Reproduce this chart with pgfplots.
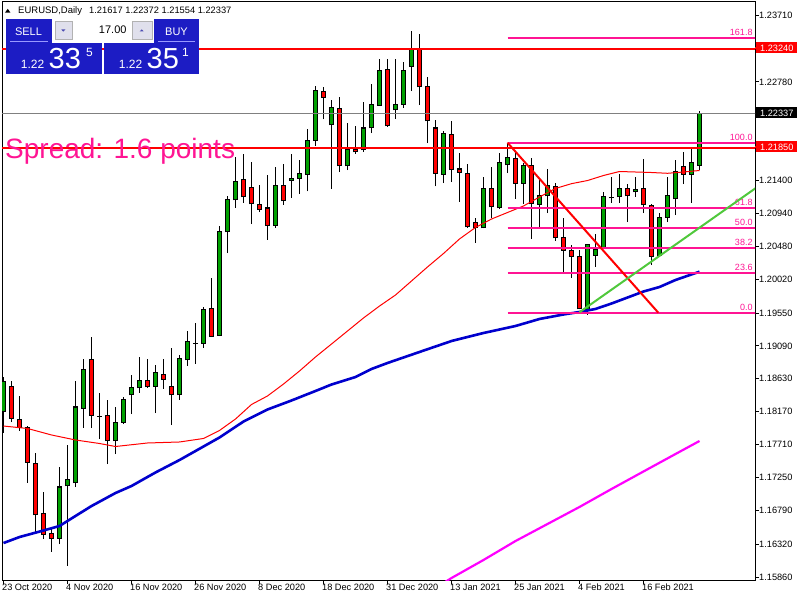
\documentclass[border=0pt]{standalone}
\usepackage{pgfplots}
\pgfplotsset{compat=1.18}
\usepackage{pgfplotstable}
\usepackage{fontspec}
\setmainfont{Liberation Sans}
\definecolor{bullg}{RGB}{0,160,0}
\definecolor{bearr}{RGB}{255,0,0}
\definecolor{fibpink}{RGB}{255,20,147}
\definecolor{mablue}{RGB}{0,0,205}
\definecolor{mamag}{RGB}{255,0,255}
\definecolor{trendg}{RGB}{80,200,60}
\definecolor{panelblue}{RGB}{28,28,196}
\definecolor{panelbtn}{RGB}{224,224,236}

\pgfplotstableread{
i o h l c
0 1.18180 1.18651 1.17873 1.18590
1 1.18516 1.18599 1.18026 1.18082
2 1.18068 1.18390 1.17901 1.17943
3 1.17943 1.17970 1.17174 1.17467
4 1.17453 1.17593 1.16489 1.16727
5 1.16741 1.17048 1.16391 1.16461
6 1.16475 1.16545 1.16210 1.16405
7 1.16405 1.17398 1.16321 1.17118
8 1.17132 1.17705 1.16014 1.17216
9 1.17174 1.18599 1.17118 1.18236
10 1.18222 1.18907 1.17943 1.18767
11 1.18893 1.19214 1.17943 1.18124
12 1.18110 1.18432 1.17789 1.18110
13 1.18124 1.18334 1.17439 1.17761
14 1.17761 1.18236 1.17579 1.18026
15 1.18026 1.18376 1.17998 1.18334
16 1.18404 1.18683 1.18138 1.18502
17 1.18502 1.18935 1.18432 1.18613
18 1.18613 1.18907 1.18502 1.18516
19 1.18529 1.18823 1.18152 1.18725
20 1.18697 1.18907 1.18488 1.18627
21 1.18516 1.19061 1.17984 1.18404
22 1.18404 1.18963 1.18334 1.18907
23 1.18893 1.19298 1.18809 1.19158
24 1.19130 1.19410 1.18837 1.19130
25 1.19130 1.19634 1.19061 1.19592
26 1.19606 1.20039 1.19214 1.19228
27 1.19242 1.20765 1.19228 1.20682
28 1.20682 1.21185 1.20388 1.21129
29 1.21129 1.21730 1.21017 1.21394
30 1.21422 1.21772 1.21087 1.21171
31 1.21297 1.21660 1.20793 1.21073
32 1.21059 1.21338 1.20961 1.21003
33 1.21017 1.21478 1.20570 1.20779
34 1.20779 1.21590 1.20738 1.21338
35 1.21338 1.21632 1.21059 1.21115
36 1.21408 1.21772 1.21157 1.21436
37 1.21436 1.21688 1.21213 1.21506
38 1.21492 1.22121 1.21248 1.21967
39 1.21967 1.22722 1.21890 1.22659
40 1.22652 1.22701 1.22254 1.22568
41 1.22177 1.22526 1.21287 1.22415
42 1.22401 1.22568 1.21520 1.21604
43 1.21604 1.22205 1.21548 1.21828
44 1.21828 1.22163 1.21772 1.21800
45 1.21828 1.22498 1.21800 1.22135
46 1.22135 1.22750 1.22065 1.22470
47 1.22456 1.23099 1.22449 1.22932
48 1.22946 1.23099 1.22149 1.22163
49 1.22387 1.23099 1.22261 1.22470
50 1.22470 1.23057 1.22415 1.22932
51 1.23001 1.23491 1.22652 1.23239
52 1.23239 1.23449 1.22456 1.22708
53 1.22708 1.22848 1.21925 1.22233
54 1.22135 1.22247 1.21318 1.21506
55 1.21492 1.22093 1.21366 1.22065
56 1.22051 1.22233 1.21380 1.21562
57 1.21562 1.21786 1.21101 1.21520
58 1.21506 1.21632 1.20738 1.20752
59 1.20821 1.20877 1.20528 1.20738
60 1.20738 1.21450 1.20731 1.21283
61 1.21283 1.21590 1.20877 1.21031
62 1.21017 1.21786 1.21003 1.21646
63 1.21618 1.21911 1.21506 1.21716
64 1.21702 1.21786 1.21143 1.21366
65 1.21366 1.21646 1.21073 1.21604
66 1.21604 1.21716 1.20584 1.21073
67 1.21066 1.21408 1.20752 1.21192
68 1.21185 1.21562 1.20947 1.21338
69 1.21311 1.21366 1.20556 1.20598
70 1.20598 1.20877 1.20123 1.20430
71 1.20430 1.20500 1.20039 1.20346
72 1.20346 1.20430 1.19599 1.19606
73 1.19592 1.20500 1.19522 1.20500
74 1.20360 1.20654 1.20193 1.20444
75 1.20458 1.21241 1.20451 1.21171
76 1.21157 1.21450 1.21087 1.21157
77 1.21171 1.21492 1.21087 1.21283
78 1.21283 1.21352 1.20821 1.21185
79 1.21241 1.21450 1.21171 1.21269
80 1.21283 1.21702 1.20947 1.21059
81 1.21045 1.21073 1.20220 1.20346
82 1.20360 1.20947 1.20353 1.20891
83 1.20891 1.21450 1.20821 1.21185
84 1.21143 1.21688 1.20919 1.21534
85 1.21590 1.21800 1.21352 1.21492
86 1.21492 1.21869 1.21087 1.21646
87 1.21617 1.22372 1.21554 1.22337
}\candles

\pgfplotstableread{
i v
0 1.17970
3 1.17936
6 1.17845
9 1.17775
12 1.17726
14 1.17684
18 1.17733
22 1.17747
25 1.17796
27 1.17908
29 1.18068
31 1.18271
33 1.18390
35 1.18557
37 1.18739
39 1.18935
41 1.19116
43 1.19298
45 1.19480
47 1.19647
49 1.19801
51 1.19997
53 1.20193
55 1.20381
57 1.20584
59 1.20745
61 1.20863
63 1.20954
65 1.21045
67 1.21171
69 1.21290
71 1.21357
73 1.21401
75 1.21471
77 1.21527
79 1.21520
81 1.21513
83 1.21502
85 1.21520
87 1.21541
}\maRed

\pgfplotstableread{
i v
0 1.16335
2 1.16419
5 1.16510
7 1.16573
9 1.16713
11 1.16852
14 1.17034
16 1.17132
19 1.17321
22 1.17495
25 1.17684
27 1.17810
30 1.18033
33 1.18201
36 1.18327
39 1.18460
41 1.18550
44 1.18655
46 1.18767
48 1.18851
52 1.19005
56 1.19158
60 1.19270
64 1.19368
67 1.19466
70 1.19529
72 1.19564
74 1.19606
76 1.19682
78 1.19766
80 1.19850
82 1.19913
84 1.20011
87 1.20127
}\maBlue

\pgfplotstableread{
i v
55 1.15776
56 1.15846
60 1.16098
64 1.16363
68 1.16601
72 1.16839
76 1.17090
80 1.17335
84 1.17579
87 1.17761
}\maMag

\begin{document}
\begin{tikzpicture}[x=1pt,y=1pt]
\begin{axis}[
  at={(2,20)}, anchor=south west, scale only axis,
  width=753pt, height=578pt,
  xmin=-0.1875, xmax=93.9375,
  ymin=1.158183, ymax=1.238959,
  axis line style={black, line width=1pt},
  tick style={black, line width=0.8pt},
  tick align=outside,
  major tick length=4pt,
  xtick pos=bottom, ytick pos=right,
  yticklabel pos=right,
  xtick={0,8,16,24,32,40,48,56,64,72,80},
  xticklabels={23 Oct 2020,4 Nov 2020,16 Nov 2020,26 Nov 2020,8 Dec 2020,18 Dec 2020,31 Dec 2020,13 Jan 2021,25 Jan 2021,4 Feb 2021,16 Feb 2021},
  ytick={1.23710,1.22780,1.21400,1.20940,1.20480,1.20020,1.19550,1.19090,1.18630,1.18170,1.17710,1.17250,1.16790,1.16320,1.15860},
  yticklabels={1.23710,1.22780,1.21400,1.20940,1.20480,1.20020,1.19550,1.19090,1.18630,1.18170,1.17710,1.17250,1.16790,1.16320,1.15860},
  tick label style={font=\fontsize{9.2}{10}\selectfont, inner sep=0pt},
  xticklabel style={anchor=north west, xshift=-1.5pt},
  yticklabel style={anchor=west},
  clip=true,
]
% wicks
\addplot[forget plot, draw=none, mark=none, error bars/.cd, y dir=plus, y explicit, error mark=none, error bar style={draw=black, line width=1pt}]
  table[x=i, y=l, y error expr=\thisrow{h}-\thisrow{l}] {\candles};
% body outlines
\addplot[forget plot, draw=none, mark=none, error bars/.cd, y dir=plus, y explicit, error mark=none, error bar style={draw=black, line width=5pt}]
  table[x=i, y expr={min(\thisrow{o},\thisrow{c})-0.00007}, y error expr={abs(\thisrow{c}-\thisrow{o})+0.00014}] {\candles};
% bull bodies
\addplot[forget plot, draw=none, mark=none, restrict expr to domain={\thisrow{c}-\thisrow{o}}{0:1}, error bars/.cd, y dir=plus, y explicit, error mark=none, error bar style={draw=bullg, line width=3pt}]
  table[x=i, y expr={\thisrow{o}+0.00007}, y error expr={max(0,\thisrow{c}-\thisrow{o}-0.00014)}] {\candles};
% bear bodies
\addplot[forget plot, draw=none, mark=none, restrict expr to domain={\thisrow{o}-\thisrow{c}}{0.000001:1}, error bars/.cd, y dir=plus, y explicit, error mark=none, error bar style={draw=bearr, line width=3pt}]
  table[x=i, y expr={\thisrow{c}+0.00007}, y error expr={max(0,\thisrow{o}-\thisrow{c}-0.00014)}] {\candles};
% moving averages
\addplot[red, line width=1pt, mark=none] table[x=i,y=v] {\maRed};
\addplot[mablue, line width=2.6pt, mark=none] table[x=i,y=v] {\maBlue};
\addplot[mamag, line width=2.2pt, mark=none] table[x=i,y=v] {\maMag};
% horizontal lines
\addplot[gray, line width=1pt, mark=none] coordinates {(-1,1.22337) (95,1.22337)};
\addplot[red, line width=2pt, mark=none] coordinates {(-1,1.23240) (95,1.23240)};
\addplot[red, line width=2pt, mark=none] coordinates {(-1,1.21850) (95,1.21850)};
% fibonacci levels
\addplot[fibpink, line width=2pt, mark=none] coordinates {(63,1.23398) (95,1.23398)};
\addplot[fibpink, line width=2pt, mark=none] coordinates {(63,1.21930) (95,1.21930)};
\addplot[fibpink, line width=2pt, mark=none] coordinates {(63,1.21022) (95,1.21022)};
\addplot[fibpink, line width=2pt, mark=none] coordinates {(63,1.20742) (95,1.20742)};
\addplot[fibpink, line width=2pt, mark=none] coordinates {(63,1.20462) (95,1.20462)};
\addplot[fibpink, line width=2pt, mark=none] coordinates {(63,1.20115) (95,1.20115)};
\addplot[fibpink, line width=2pt, mark=none] coordinates {(63,1.19554) (95,1.19554)};
\addplot[red, line width=2pt, mark=none] coordinates {(63,1.21930) (81.85,1.19554)};
\begin{scope}[every node/.style={anchor=base east, text=fibpink, font=\fontsize{9}{9}\selectfont, inner sep=0pt, yshift=2pt}]
\node at (axis cs:93.65,1.23398) {161.8};
\node at (axis cs:93.65,1.21930) {100.0};
\node at (axis cs:93.65,1.21022) {61.8};
\node at (axis cs:93.65,1.20742) {50.0};
\node at (axis cs:93.65,1.20462) {38.2};
\node at (axis cs:93.65,1.20115) {23.6};
\node at (axis cs:93.65,1.19554) {0.0};
\end{scope}
\addplot[trendg, line width=2pt, mark=none] coordinates {(72,1.19560) (95,1.21372)};
\coordinate (F) at (rel axis cs:0,0);
\end{axis}
\begin{scope}[shift={(F)}, xshift=-2pt, yshift=-20pt]
% right side price boxes
\begin{scope}[every node/.style={anchor=west, text=white, font=\fontsize{9.2}{10}\selectfont, inner xsep=4pt, inner ysep=0pt, minimum height=11pt}]
\draw[red, line width=2pt] (755,552) -- (758,552);
\node[fill=red] at (756,552) {1.23240};
\node[fill=black] at (756,487) {1.22337};
\draw[red, line width=2pt] (755,453) -- (758,453);
\node[fill=red] at (756,453) {1.21850};
\end{scope}
% header
\fill[black] (5,587.3) -- (10.5,587.3) -- (7.75,591.2) -- cycle;
\node[anchor=base west, inner sep=0pt, font=\fontsize{9.5}{9.5}\selectfont] at (18,586) {EURUSD,Daily};
\node[anchor=base west, inner sep=0pt, font=\fontsize{9.3}{9.3}\selectfont] at (89,586) {1.21617 1.22372 1.21554 1.22337};
% spread text
\node[anchor=base west, inner sep=0pt, text=fibpink, font=\fontsize{28}{28}\selectfont] at (5,441) {Spread: 1.6 points};
% trading panel
\fill[panelblue] (6,580.7) rectangle (52,557.3);
\fill[panelblue] (154,580.7) rectangle (199,557.3);
\fill[panelblue] (6,557.3) rectangle (101.7,526);
\fill[panelblue] (104,557.3) rectangle (199,526);
\draw[white, fill=white] (52.7,580.7) rectangle (153.3,558.3);
\draw[gray!60, fill=panelbtn] (55,578.5) rectangle (71.7,560.5);
\draw[gray!60, fill=panelbtn] (131.7,578.5) rectangle (151.7,560.5);
\fill[blue!40!gray] (61.3,570.5) -- (65.3,570.5) -- (63.3,568.3) -- cycle;
\fill[blue!40!gray] (139.7,568.5) -- (143.7,568.5) -- (141.7,570.7) -- cycle;
\node[anchor=base east, inner sep=0pt, font=\fontsize{11}{11}\selectfont] at (126.7,566) {17.00};
\draw[blue!40!white, line width=0.8pt] (10,558.6) -- (48,558.6);
\draw[blue!40!white, line width=0.8pt] (158,558.6) -- (195,558.6);
\node[text=white, inner sep=0pt, font=\fontsize{11}{11}\selectfont, anchor=base] at (28.5,564.5) {SELL};
\node[text=white, inner sep=0pt, font=\fontsize{11}{11}\selectfont, anchor=base] at (176.5,564.5) {BUY};
\begin{scope}[every node/.style={text=white, inner sep=0pt, anchor=base west}]
\node[font=\fontsize{12}{12}\selectfont] at (20.7,531.7) {1.22};
\node[font=\fontsize{29}{29}\selectfont] at (48.5,531.7) {33};
\node[font=\fontsize{12}{12}\selectfont] at (86,543) {5};
\node[font=\fontsize{12}{12}\selectfont] at (118.7,531.7) {1.22};
\node[font=\fontsize{29}{29}\selectfont] at (146.5,531.7) {35};
\node[font=\fontsize{12}{12}\selectfont] at (182,543) {1};
\end{scope}
\end{scope}
\pgfresetboundingbox
\path[use as bounding box] (F) ++(-2,-20) rectangle ++(800,600);
\end{tikzpicture}
\end{document}
